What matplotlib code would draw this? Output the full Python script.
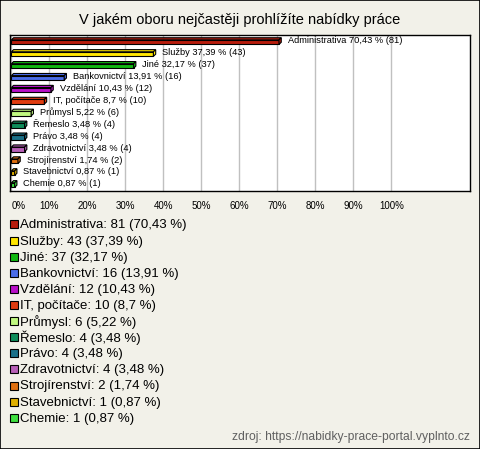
import matplotlib.pyplot as plt
from matplotlib.patches import Polygon, Rectangle

plt.rcParams['font.family'] = ['Liberation Sans', 'DejaVu Sans']

# Data
categories = ['Administrativa', 'Služby', 'Jiné', 'Bankovnictví', 'Vzdělání',
              'IT, počítače', 'Průmysl', 'Řemeslo', 'Právo', 'Zdravotnictví',
              'Strojírenství', 'Stavebnictví', 'Chemie']
counts = [81, 43, 37, 16, 12, 10, 6, 4, 4, 4, 2, 1, 1]
percents = [70.43, 37.39, 32.17, 13.91, 10.43, 8.7, 5.22, 3.48, 3.48, 3.48, 1.74, 0.87, 0.87]
pct_labels = ['70,43', '37,39', '32,17', '13,91', '10,43', '8,7', '5,22',
              '3,48', '3,48', '3,48', '1,74', '0,87', '0,87']
colors = ['#b81c0c', '#ffe600', '#10b810', '#4a6ce8', '#b810c8', '#e03c10',
          '#c0f880', '#0e8c5a', '#1a7088', '#b860b8', '#e07010', '#e0b000', '#40e040']
ticks = [0, 10, 20, 30, 40, 50, 60, 70, 80, 90, 100]

W, H = 480, 449
bg = '#f2f1e9'
fig = plt.figure(figsize=(W / 100, H / 100), dpi=100, facecolor=bg)
fig.patches.append(Rectangle((0, 0), 1, 1, transform=fig.transFigure,
                             fill=False, edgecolor='black', linewidth=1.2))

fig.text(240 / W, 1 - 20 / H, 'V jakém oboru nejčastěji prohlížíte nabídky práce',
         ha='center', va='center', fontsize=10.5)

ax = fig.add_axes([10 / W, 1 - 191 / H, 460 / W, 156 / H])
ax.set_facecolor('white')
ax.set_xlim(-0.35, 120.7)
ax.set_ylim(12.5, -0.6)
for s in ax.spines.values():
    s.set_linewidth(1)
ax.set_yticks([])
ax.set_xticks(ticks)
ax.set_xticklabels([f'{t}%' for t in ticks], fontsize=7)
ax.get_xticklabels()[0].set_horizontalalignment('left')
ax.tick_params(axis='x', length=0, pad=7)
ax.grid(axis='x', color='#c0c0c0', linewidth=1)
ax.set_axisbelow(True)

h = 0.38
dx, dy = 0.6, 0.18
for i, (p, c) in enumerate(zip(percents, colors)):
    ax.barh(i, p, height=h, color=c, edgecolor='black', linewidth=0.8, zorder=3)
    top = [(0, i - h / 2), (dx, i - h / 2 - dy), (p + dx, i - h / 2 - dy), (p, i - h / 2)]
    side = [(p, i - h / 2), (p + dx, i - h / 2 - dy), (p + dx, i + h / 2 - dy), (p, i + h / 2)]
    ax.add_patch(Polygon(top, closed=True, facecolor=c, edgecolor='black', linewidth=0.8, zorder=3))
    ax.add_patch(Polygon(side, closed=True, facecolor=c, edgecolor='black', linewidth=0.8, zorder=3))
    ax.text(p + 2.3, i - 0.1, f'{categories[i]} {pct_labels[i]} % ({counts[i]})',
            va='center', ha='left', fontsize=6.7, zorder=4)

# Legend
for i, (cat, n, pl, c) in enumerate(zip(categories, counts, pct_labels, colors)):
    yc = 225.5 + i * 16.1
    fig.patches.append(Rectangle((10 / W, 1 - (yc + 3) / H), 8 / W, 8 / H,
                                 transform=fig.transFigure, facecolor=c,
                                 edgecolor='black', linewidth=0.8))
    fig.text(20 / W, 1 - yc / H, f'{cat}: {n} ({pl} %)', ha='left', va='center', fontsize=9.5)

fig.text(470 / W, 1 - 437 / H, 'zdroj: https://nabidky-prace-portal.vyplnto.cz',
         ha='right', va='center', fontsize=8.7, color='#606060')

fig.savefig('out.png', dpi=100, facecolor=bg)
